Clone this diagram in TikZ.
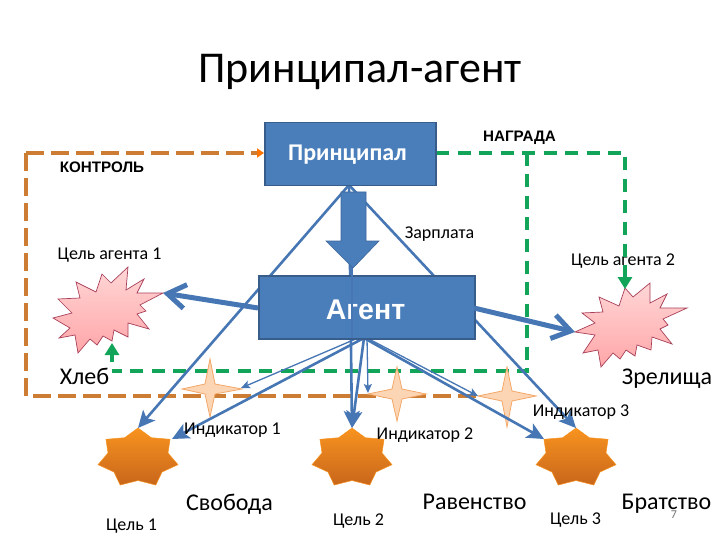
\documentclass[tikz,border=0pt]{standalone}
\usepackage{fontspec}
\setmainfont{Carlito}
\newfontfamily\arialf{Liberation Sans}
\usetikzlibrary{arrows.meta}
\definecolor{boxblue}{HTML}{4A7EBB}
\definecolor{boxedge}{HTML}{385D8A}
\definecolor{linkblue}{HTML}{4677B4}
\definecolor{dashor}{HTML}{CC7D33}
\definecolor{dashgr}{HTML}{12A55A}
\definecolor{pinktop}{HTML}{FFD6D6}
\definecolor{pinkbot}{HTML}{FFA6A8}
\definecolor{pinkedge}{HTML}{A8405A}
\definecolor{ortop}{HTML}{F8931F}
\definecolor{orbot}{HTML}{C8661C}
\definecolor{indfill}{HTML}{FCD5B5}
\definecolor{indedge}{HTML}{F4A868}
\tikzset{
 x=1pt,y=-1pt,
 boxn/.style={draw=boxedge,line width=1.5pt,fill=boxblue,text=white,inner sep=0pt,anchor=north west},
 lab/.style={inner sep=0pt,anchor=base,text=black},
 small/.style={font=\fontsize{18}{18}\selectfont},
 large/.style={font=\fontsize{24}{24}\selectfont},
 heavy/.style={font=\arialf\bfseries\fontsize{15.2}{15.2}\selectfont},
 pinkstar/.style={draw=pinkedge,line width=0.7pt,top color=pinktop,bottom color=pinkbot},
 orstar/.style={draw=ortop,line width=0.5pt,top color=ortop,bottom color=orbot},
 indstar/.style={draw=indedge,line width=0.8pt,fill=indfill},
 conn/.style={draw=linkblue,line width=2.6pt,-{Stealth[length=17pt,width=16pt,inset=4pt]}},
 thinconn/.style={draw=linkblue,line width=1.3pt,-{Stealth[length=9pt,width=8pt,inset=2pt]}},
 thickconn/.style={draw=linkblue,line width=5pt,-{Straight Barb[length=18pt,width=24pt]}},
 ordash/.style={draw=dashor,line width=3.5pt,dash pattern=on 18pt off 7pt},
 grdash/.style={draw=dashgr,line width=4pt,dash pattern=on 13pt off 8.5pt},
 grtip/.style={-{Stealth[length=12pt,width=14pt,inset=0pt]}},
}
\newcommand{\sevenstar}[1]{\path[orstar] plot[samples at={0,...,13},variable=\k]
  ({#1+(mod(\k,2)==0?1:0.75)*41*cos(90+\k*360/14)},{458-(mod(\k,2)==0?1:0.75)*30*sin(90+\k*360/14)}) -- cycle;}
\newcommand{\fourstar}[6]{% cx cy left right top bottom
  \path[indstar] (#3,#2) -- (#1-5,#2-5) -- (#1,#5) -- (#1+5,#2-5) -- (#4,#2) -- (#1+5,#2+5) -- (#1,#6) -- (#1-5,#2+5) -- cycle;}
\begin{document}
\begin{tikzpicture}
\useasboundingbox[fill=white] (0,0) rectangle (720,540);
% anchor points
\coordinate (pb) at (349,185);
\coordinate (ab1) at (358,338);
\coordinate (ab2) at (364,338);
\coordinate (ab3) at (367,338);
\coordinate (t1a) at (138,428);
\coordinate (t1b) at (172,439);
\coordinate (t2) at (352,428);
\coordinate (t3a) at (576,428);
\coordinate (t3b) at (544,439);
\coordinate (i1) at (241,388);
\coordinate (i2) at (368,393);
\coordinate (i3) at (478,396);
\coordinate (ol) at (26,153);
\coordinate (obl) at (26,396);
\coordinate (obr) at (478,396);
\coordinate (gtop) at (625,153);
\coordinate (gtip) at (625,289);
\coordinate (gm) at (527,153);
\coordinate (gmb) at (527,371);
\coordinate (gl) at (112,371);
\coordinate (gls) at (112,362);
\coordinate (glt) at (112,343);
\coordinate (sl) at (163,293);
\coordinate (sr) at (575,332);
% stars
\path[pinkstar] (128,267)--(126,290)--(144,279)--(137,293)--(163,293)--(140,305)--(146,311)--(137,314)--(149,329)--(128,323)--(128,337)--(114,330)--(112,341)--(103,336)--(97,345)--(90,339)--(78,353)--(75,335)--(59,338)--(70,328)--(53,318)--(72,313)--(58,299)--(80,298)--(76,282)--(96,292)--(102,274)--(111,283)--cycle;
\path[pinkstar] (625,288)--(633,297)--(650,283)--(650,303)--(667,294)--(660,308)--(687,308)--(663,319)--(668,325)--(660,329)--(672,344)--(652,337)--(651,350)--(637,345)--(635,356)--(626,350)--(620,359)--(613,353)--(601,367)--(598,350)--(583,353)--(595,335)--(575,332)--(595,323)--(582,313)--(603,312)--(599,297)--(619,306)--cycle;
\sevenstar{138}
\sevenstar{352}
\sevenstar{576}
% texts under the lines
\node[lab,font=\fontsize{44}{44}\selectfont] (title) at (360,83) {Принципал-агент};
\node[lab,small] (ga1) at (109.5,259) {Цель агента 1};
\node[lab,small] (ga2) at (623,265) {Цель агента 2};
\node[lab,small] (zp) at (439.5,238) {Зарплата};
\node[lab,heavy] (nag) at (519.5,142) {НАГРАДА};
\node[lab,heavy] (kon) at (102,173) {КОНТРОЛЬ};
% dashed
\draw[ordash,-{Stealth[length=7pt,width=9pt,inset=0pt,color=orange!90!red]}] (ol) -- (264,153);
\draw[ordash] (ol) -- (obl) -- (obr);
\draw[grdash,grtip,shorten <=1pt] (435,153) -- (gtop) -- (gtip);
\draw[grdash] (gm) -- (gmb) -- (gl);
\draw[draw=dashgr,line width=4pt,grtip] (gls) -- (glt);
% indicators
\fourstar{210}{389}{182}{242}{359}{417}
\fourstar{397}{394}{368}{426}{367}{421}
\fourstar{507}{396}{478}{536}{367}{427}
% blue links from principal
\draw[conn] (pb) -- (t1a);
\draw[conn] (pb) -- (t3a);
\draw[conn] (pb) -- (t2);
% agent links
\draw[conn] (ab2) -- (t1b);
\draw[thinconn] (ab1) -- (i1);
\draw[conn] (ab2) -- (t2);
\draw[thinconn] (ab3) -- (i2);
\draw[conn] (ab2) -- (t3b);
\draw[thinconn] (ab3) -- (i3);
% boxes
\node[boxn,minimum width=171pt,minimum height=63pt] (princ) at (264,122) {};
\node[boxn,minimum width=216pt,minimum height=63pt] (agent) at (258,275) {};
\node[lab,text=white,font=\bfseries\fontsize{24}{24}\selectfont] at (347.5,161) {Принципал};
\node[lab,text=white,font=\arialf\bfseries\fontsize{28.5}{28.5}\selectfont] at (365.5,319) {Агент};
\draw[draw=linkblue,line width=1.5pt] (352,266) -- (352,338);
% big arrow
\path[fill=boxblue,draw=boxedge!70!boxblue,line width=0.6pt] (341,192)--(366,192)--(366,241)--(379,241)--(353,268)--(326,241)--(341,241)--cycle;
% thick
\draw[thickconn] (258,308) -- (sl);
\draw[thickconn] (474,308) -- (sr);
% labels over
\node[lab,large] (hl) at (84.5,384) {Хлеб};
\node[lab,large] (zr) at (667,384) {Зрелища};
\node[lab,small] (il1) at (232.5,434) {Индикатор 1};
\node[lab,small] (il2) at (425,439) {Индикатор 2};
\node[lab,small] (il3) at (581,416) {Индикатор 3};
\node[lab,large] (sv) at (229.5,510) {Свобода};
\node[lab,large] (rv) at (474.5,509) {Равенство};
\node[lab,large] (br) at (666.5,509) {Братство};
\node[lab,small] (c1) at (131.5,530) {Цель 1};
\node[lab,small] (c2) at (358.5,525) {Цель 2};
\node[lab,small] (c3) at (575.5,524) {Цель 3};
\node[lab,text=black!55,font=\fontsize{12}{12}\selectfont] (pg) at (674,518) {7};
\end{tikzpicture}
\end{document}
